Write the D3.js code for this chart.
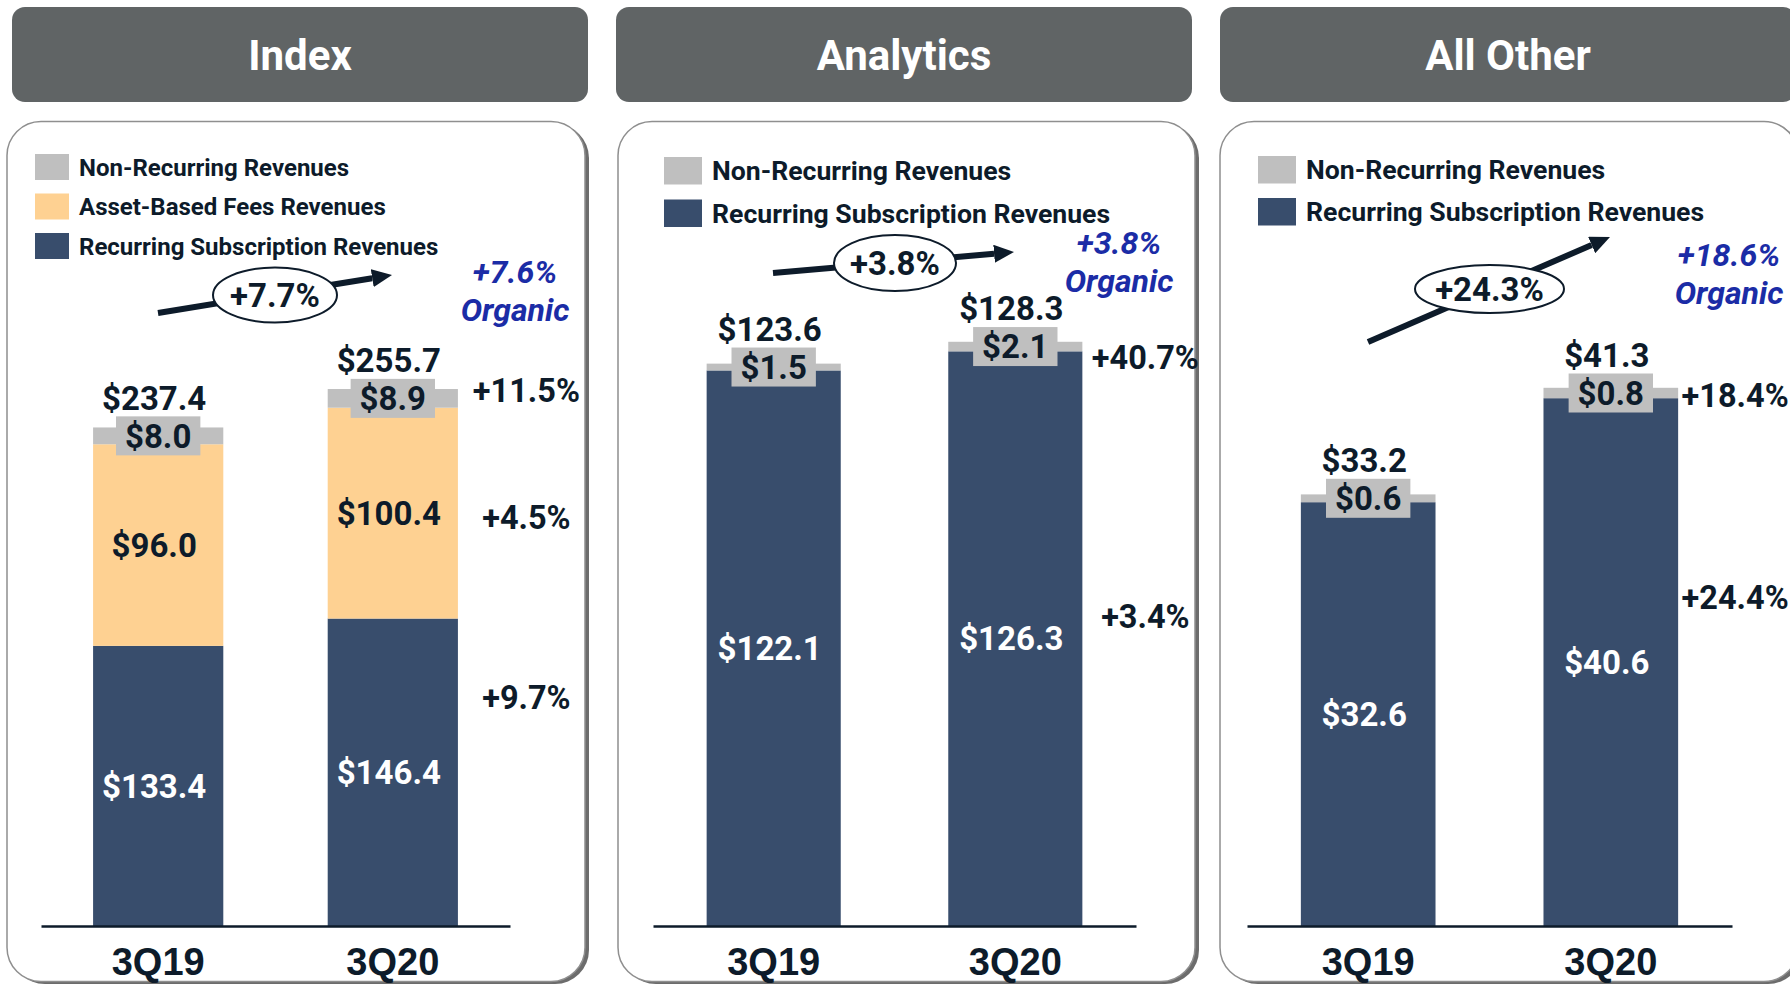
<!DOCTYPE html>
<html>
<head>
<meta charset="utf-8">
<script src="https://cdn.jsdelivr.net/npm/d3@7"></script>
<style>
  html, body { margin: 0; padding: 0; background: #fff; }
  svg { display: block; font-family: Roboto, "Noto Sans", sans-serif; font-weight: 700; }
</style>
</head>
<body>
<div id="chart"></div>
<script>
var width = 1790;
var height = 986;
const NAVY = "#384d6c";
const PEACH = "#fed192";
const GREY = "#bfbfbf";
const INK = "#0d1b2a";
const BLUE = "#1b2ca6";
const HEADER_BG = "#606465";

// ---- data ----
const quarters = ["3Q19", "3Q20"];
const panelTitles = ["Index", "Analytics", "All Other"];

const indexRecurring = [133.4, 146.4];
const indexAssetBased = [96.0, 100.4];
const indexNonRecurring = [8.0, 8.9];
const indexTotals = [237.4, 255.7];
const indexGrowth = ["+11.5%", "+4.5%", "+9.7%"];

const analyticsRecurring = [122.1, 126.3];
const analyticsNonRecurring = [1.5, 2.1];
const analyticsTotals = [123.6, 128.3];
const analyticsGrowth = ["+40.7%", "+3.4%"];

const allOtherRecurring = [32.6, 40.6];
const allOtherNonRecurring = [0.6, 0.8];
const allOtherTotals = [33.2, 41.3];
const allOtherGrowth = ["+18.4%", "+24.4%"];

const totalGrowth = ["+7.7%", "+3.8%", "+24.3%"];
const organicGrowth = ["+7.6%", "+3.8%", "+18.6%"];

const seriesNames = {
  non: "Non-Recurring Revenues",
  asset: "Asset-Based Fees Revenues",
  rec: "Recurring Subscription Revenues"
};
const seriesColors = { non: GREY, asset: PEACH, rec: NAVY };

// ---- layout (one entry per panel) ----
var panels = [
  {
    title: panelTitles[0], keys: ["rec", "asset", "non"],
    values: { rec: indexRecurring, asset: indexAssetBased, non: indexNonRecurring },
    totals: indexTotals, growth: indexGrowth,
    headerX: 12, boxX: 7, boxW: 578, axisX: [41, 510], yMax: 260,
    legend: { x: 35, y: 156, sw: 34, sh: 26, gap: 39.5, size: 24 },
    ellipse: { cx: 275, cy: 295, rx: 62, ry: 27.5 },
    arrow: [[158, 313], [392, 275]],
    organic: { x: 515, y: 272 },
    growthDx: 68.5, growthDy: [-7.5, 4, -75]
  },
  {
    title: panelTitles[1], keys: ["rec", "non"],
    values: { rec: analyticsRecurring, non: analyticsNonRecurring },
    totals: analyticsTotals, growth: analyticsGrowth,
    headerX: 616, boxX: 618, boxW: 577, axisX: [653, 1136], yMax: 120,
    legend: { x: 664, y: 159, sw: 38, sh: 27.5, gap: 42.5, size: 26.6 },
    ellipse: { cx: 895, cy: 263, rx: 61, ry: 28 },
    arrow: [[773, 273], [1014, 252]],
    organic: { x: 1119, y: 243 },
    growthDx: 63, growthDy: [11, -22]
  },
  {
    title: panelTitles[2], keys: ["rec", "non"],
    values: { rec: allOtherRecurring, non: allOtherNonRecurring },
    totals: allOtherTotals, growth: allOtherGrowth,
    headerX: 1220, boxX: 1220, boxW: 578, axisX: [1247, 1732], yMax: 42,
    legend: { x: 1258, y: 158, sw: 38, sh: 27.5, gap: 42, size: 26.6 },
    ellipse: { cx: 1489.5, cy: 289, rx: 74.5, ry: 24 },
    arrow: [[1368, 342], [1610, 237]],
    organic: { x: 1729, y: 255 },
    growthDx: 57, growthDy: [2, -65]
  }
];

var baseY = 926;
var plotTop = 380;
var headLen = 20;
var labelShift = -4; // value labels sit a little left of the bar centre

var svg = d3.select("#chart")
  .append("svg")
  .attr("width", width)
  .attr("height", height);

svg.append("defs").append("marker")
  .attr("id", "head")
  .attr("markerUnits", "userSpaceOnUse")
  .attr("viewBox", "0 0 10 10")
  .attr("refX", 0).attr("refY", 5)
  .attr("markerWidth", headLen).attr("markerHeight", 18)
  .attr("orient", "auto")
  .attr("preserveAspectRatio", "none")
  .append("path")
  .attr("d", "M0,0 L10,5 L0,10 z")
  .attr("fill", INK);

panels.forEach(function(p, pi) {
  var g = svg.append("g").attr("class", "panel");

  // header
  g.append("rect")
    .attr("x", p.headerX).attr("y", 7)
    .attr("width", 576).attr("height", 95)
    .attr("rx", 13)
    .attr("fill", HEADER_BG);
  g.append("text")
    .attr("x", p.headerX + 288).attr("y", 55)
    .attr("dy", "0.355em")
    .attr("text-anchor", "middle")
    .attr("fill", "#fff")
    .style("font-size", "42px")
    .text(p.title);

  // card with shadow
  g.append("rect")
    .attr("x", p.boxX + 4).attr("y", 124)
    .attr("width", p.boxW).attr("height", 860)
    .attr("rx", 34)
    .attr("fill", "#6c6c6c");
  g.append("rect")
    .attr("x", p.boxX).attr("y", 121.5)
    .attr("width", p.boxW).attr("height", 860)
    .attr("rx", 34)
    .attr("fill", "#fff")
    .attr("stroke", "#8f8f8f")
    .attr("stroke-width", 1.5);

  // legend (top to bottom: reverse stacking order)
  var legKeys = p.keys.slice().reverse();
  var leg = g.selectAll(".leg")
    .data(legKeys)
    .enter().append("g")
    .attr("class", "leg")
    .attr("transform", function(d, i) {
      return "translate(" + p.legend.x + "," + (p.legend.y + i * p.legend.gap) + ")";
    });
  leg.append("rect")
    .attr("y", -2)
    .attr("width", p.legend.sw).attr("height", p.legend.sh)
    .attr("fill", function(d) { return seriesColors[d]; });
  leg.append("text")
    .attr("x", p.legend.sw + 10)
    .attr("y", p.legend.sh / 2 - 2)
    .attr("dy", "0.355em")
    .attr("fill", INK)
    .style("font-size", p.legend.size + "px")
    .text(function(d) { return seriesNames[d]; });

  // scales
  var x = d3.scaleBand()
    .domain(quarters)
    .range(p.axisX)
    .paddingInner(0.445)
    .paddingOuter(0.222);
  var y = d3.scaleLinear()
    .domain([0, p.yMax])
    .range([baseY, plotTop]);

  var rows = quarters.map(function(q, i) {
    var r = { q: q };
    p.keys.forEach(function(k) { r[k] = p.values[k][i]; });
    return r;
  });
  var stacked = d3.stack().keys(p.keys)(rows);

  // bars
  var layers = g.selectAll(".layer")
    .data(stacked)
    .enter().append("g")
    .attr("class", "layer")
    .attr("fill", function(d) { return seriesColors[d.key]; });
  layers.selectAll("rect")
    .data(function(d) { return d; })
    .enter().append("rect")
    .attr("x", function(d) { return x(d.data.q); })
    .attr("width", x.bandwidth())
    .attr("y", function(d) { return y(d[1]); })
    .attr("height", function(d) { return y(d[0]) - y(d[1]); });

  // axis baseline
  var axis = g.append("g")
    .attr("transform", "translate(0," + baseY + ")")
    .call(d3.axisBottom(x).tickSize(0).tickPadding(20));
  axis.select(".domain")
    .attr("stroke", INK)
    .attr("stroke-width", 2.5);
  axis.selectAll(".tick text")
    .attr("fill", INK)
    .attr("font-family", null)
    .attr("font-size", null)
    .style("font-size", "38px")
    .attr("y", 36)
    .attr("dy", "0.355em");

  // labels inside the big segments
  stacked.forEach(function(layer) {
    if (layer.key === "non") return;
    g.selectAll(".lab-" + layer.key)
      .data(layer)
      .enter().append("text")
      .attr("x", function(d) { return x(d.data.q) + x.bandwidth() / 2 + labelShift; })
      .attr("y", function(d) { return (y(d[0]) + y(d[1])) / 2; })
      .attr("dy", "0.355em")
      .attr("text-anchor", "middle")
      .attr("fill", layer.key === "rec" ? "#fff" : INK)
      .style("font-size", "33px")
      .text(function(d) { return "$" + d3.format(".1f")(d[1] - d[0]); });
  });

  // non-recurring label boxes and totals
  var nonLayer = stacked[stacked.length - 1];
  nonLayer.forEach(function(d, i) {
    var cx = x(d.data.q) + x.bandwidth() / 2;
    var cy = (y(d[0]) + y(d[1])) / 2;
    var box = g.append("rect").attr("fill", GREY);
    var t = g.append("text")
      .attr("x", cx).attr("y", cy)
      .attr("dy", "0.355em")
      .attr("text-anchor", "middle")
      .attr("fill", INK)
      .style("font-size", "33px")
      .text("$" + d3.format(".1f")(d[1] - d[0]));
    var tw = t.node().getComputedTextLength() + 18;
    box.attr("x", cx - tw / 2).attr("y", cy - 19.5)
      .attr("width", tw).attr("height", 39);

    g.append("text")
      .attr("x", cx + labelShift).attr("y", cy - 38)
      .attr("dy", "0.355em")
      .attr("text-anchor", "middle")
      .attr("fill", INK)
      .style("font-size", "33px")
      .text("$" + d3.format(".1f")(p.totals[i]));
  });

  // growth labels beside the 3Q20 bar (top segment first)
  var last = quarters[quarters.length - 1];
  var gx = x(last) + x.bandwidth() + p.growthDx;
  stacked.slice().reverse().forEach(function(layer, i) {
    var d = layer[layer.length - 1];
    g.append("text")
      .attr("x", gx)
      .attr("y", (y(d[0]) + y(d[1])) / 2 + p.growthDy[i])
      .attr("dy", "0.355em")
      .attr("text-anchor", "middle")
      .attr("fill", INK)
      .style("font-size", "32.5px")
      .text(p.growth[i]);
  });

  // growth arrow with ellipse (line stops where the head begins)
  var a0 = p.arrow[0], a1 = p.arrow[1];
  var len = Math.hypot(a1[0] - a0[0], a1[1] - a0[1]);
  var ux = (a1[0] - a0[0]) / len, uy = (a1[1] - a0[1]) / len;
  g.append("line")
    .attr("x1", a0[0]).attr("y1", a0[1])
    .attr("x2", a1[0] - ux * headLen).attr("y2", a1[1] - uy * headLen)
    .attr("stroke", INK)
    .attr("stroke-width", 6)
    .attr("marker-end", "url(#head)");
  g.append("ellipse")
    .attr("cx", p.ellipse.cx).attr("cy", p.ellipse.cy)
    .attr("rx", p.ellipse.rx).attr("ry", p.ellipse.ry)
    .attr("fill", "#fff")
    .attr("stroke", INK)
    .attr("stroke-width", 2);
  g.append("text")
    .attr("x", p.ellipse.cx).attr("y", p.ellipse.cy)
    .attr("dy", "0.355em")
    .attr("text-anchor", "middle")
    .attr("fill", INK)
    .style("font-size", "33px")
    .text(totalGrowth[pi]);

  // organic growth
  var org = g.append("text")
    .attr("text-anchor", "middle")
    .attr("fill", BLUE)
    .style("font-size", "32px")
    .style("font-style", "italic");
  org.append("tspan")
    .attr("x", p.organic.x).attr("y", p.organic.y)
    .attr("dy", "0.355em")
    .text(organicGrowth[pi]);
  org.append("tspan")
    .attr("x", p.organic.x).attr("y", p.organic.y + 38)
    .attr("dy", "0.355em")
    .text("Organic");
});
</script>
</body>
</html>
